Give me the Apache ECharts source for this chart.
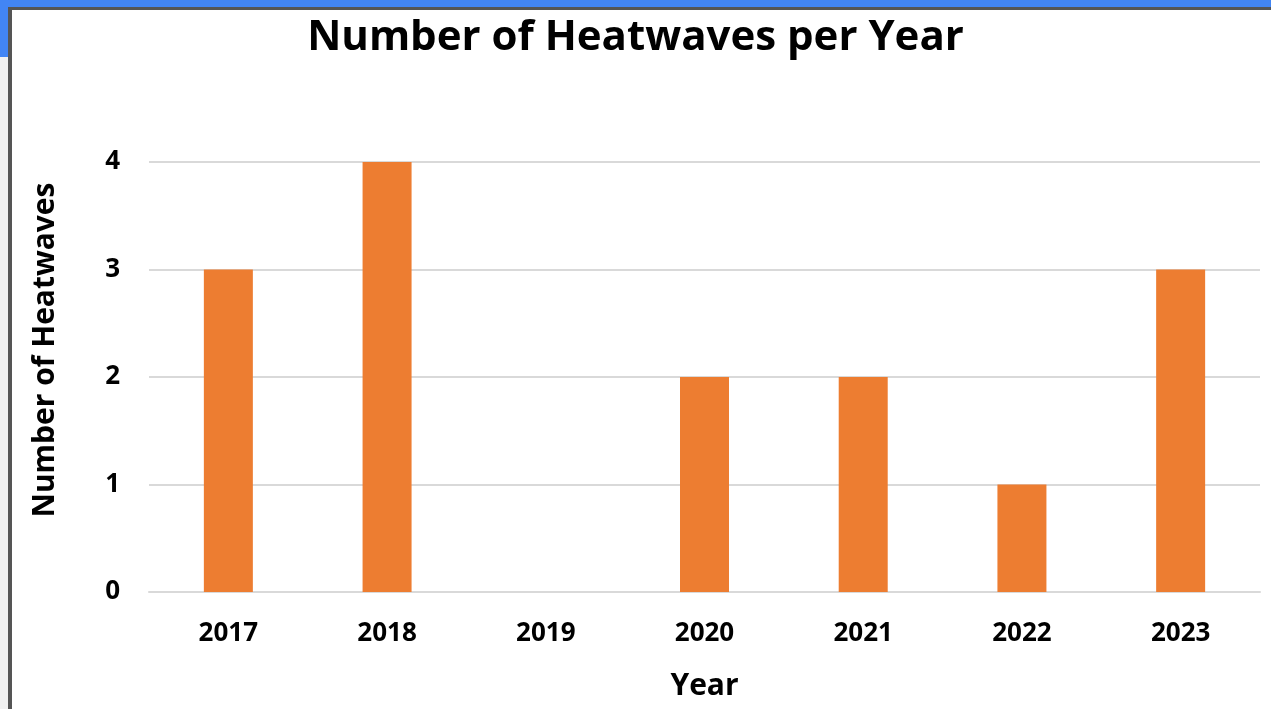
<!DOCTYPE html>
<html>
<head>
<meta charset="utf-8">
<script src="https://cdn.jsdelivr.net/npm/echarts@6/dist/echarts.min.js"></script>
<style>
  html, body { margin: 0; padding: 0; background: #fff; }
  #wrap { position: relative; width: 1271px; height: 709px; overflow: hidden; background: #f0f0f0; }
  #topbar { position: absolute; left: 0; top: 0; width: 1271px; height: 8px; background: #4285f4; }
  #leftbar { position: absolute; left: 0; top: 0; width: 8px; height: 57px; background: #4285f4; }
  #frame { position: absolute; left: 8px; top: 7px; width: 1263px; height: 702px; background: #fff;
           border-top: 3px solid #555; border-left: 4px solid #555; box-sizing: border-box; }
  #main { position: absolute; left: 0; top: 0; width: 1271px; height: 709px; }
</style>
</head>
<body>
<div id="wrap">
  <div id="topbar"></div>
  <div id="leftbar"></div>
  <div id="frame"></div>
  <div id="main"></div>
</div>
<script>
// 数据
var years = ['2017', '2018', '2019', '2020', '2021', '2022', '2023']
var heatwaves = [3, 4, 0, 2, 2, 1, 3]
var yTicks = [0, 1, 2, 3, 4]

var font = '"Open Sans", "Liberation Sans", sans-serif'

var myChart = echarts.init(document.getElementById('main'), null, { renderer: 'canvas' })

var option = {
  backgroundColor: 'transparent',
  animation: false,
  title: {
    text: 'Number of Heatwaves per Year',
    left: 'center',
    top: 12,
    textStyle: { fontFamily: font, fontSize: 42, fontWeight: 'bold', color: '#000' }
  },
  grid: {
    left: 149,
    right: 11,
    top: 162,
    bottom: 117
  },
  xAxis: {
    type: 'category',
    data: years,
    name: 'Year',
    nameLocation: 'middle',
    nameGap: 79,
    nameTextStyle: { fontFamily: font, fontSize: 30, fontWeight: 'bold', color: '#000' },
    axisLine: { show: true, lineStyle: { color: '#d9d9d9', width: 2 } },
    axisTick: { show: false },
    axisLabel: { margin: 29, fontFamily: font, fontSize: 26, fontWeight: 'bold', color: '#000' }
  },
  yAxis: {
    type: 'value',
    min: yTicks[0],
    max: yTicks[yTicks.length - 1],
    interval: 1,
    name: 'Number of Heatwaves',
    nameLocation: 'middle',
    nameGap: 89,
    nameRotate: 90,
    nameTextStyle: { fontFamily: font, fontSize: 30, fontWeight: 'bold', color: '#000', padding: [0, 0, 0, 54] },
    axisLine: { show: false },
    axisTick: { show: false },
    axisLabel: { margin: 29, fontFamily: font, fontSize: 26, fontWeight: 'bold', color: '#000' },
    splitLine: { lineStyle: { color: '#d9d9d9', width: 2 } }
  },
  series: [
    {
      name: 'Heatwaves',
      type: 'bar',
      barWidth: 49,
      data: heatwaves,
      itemStyle: { color: '#ed7d31' }
    }
  ]
}

myChart.setOption(option)
</script>
</body>
</html>
